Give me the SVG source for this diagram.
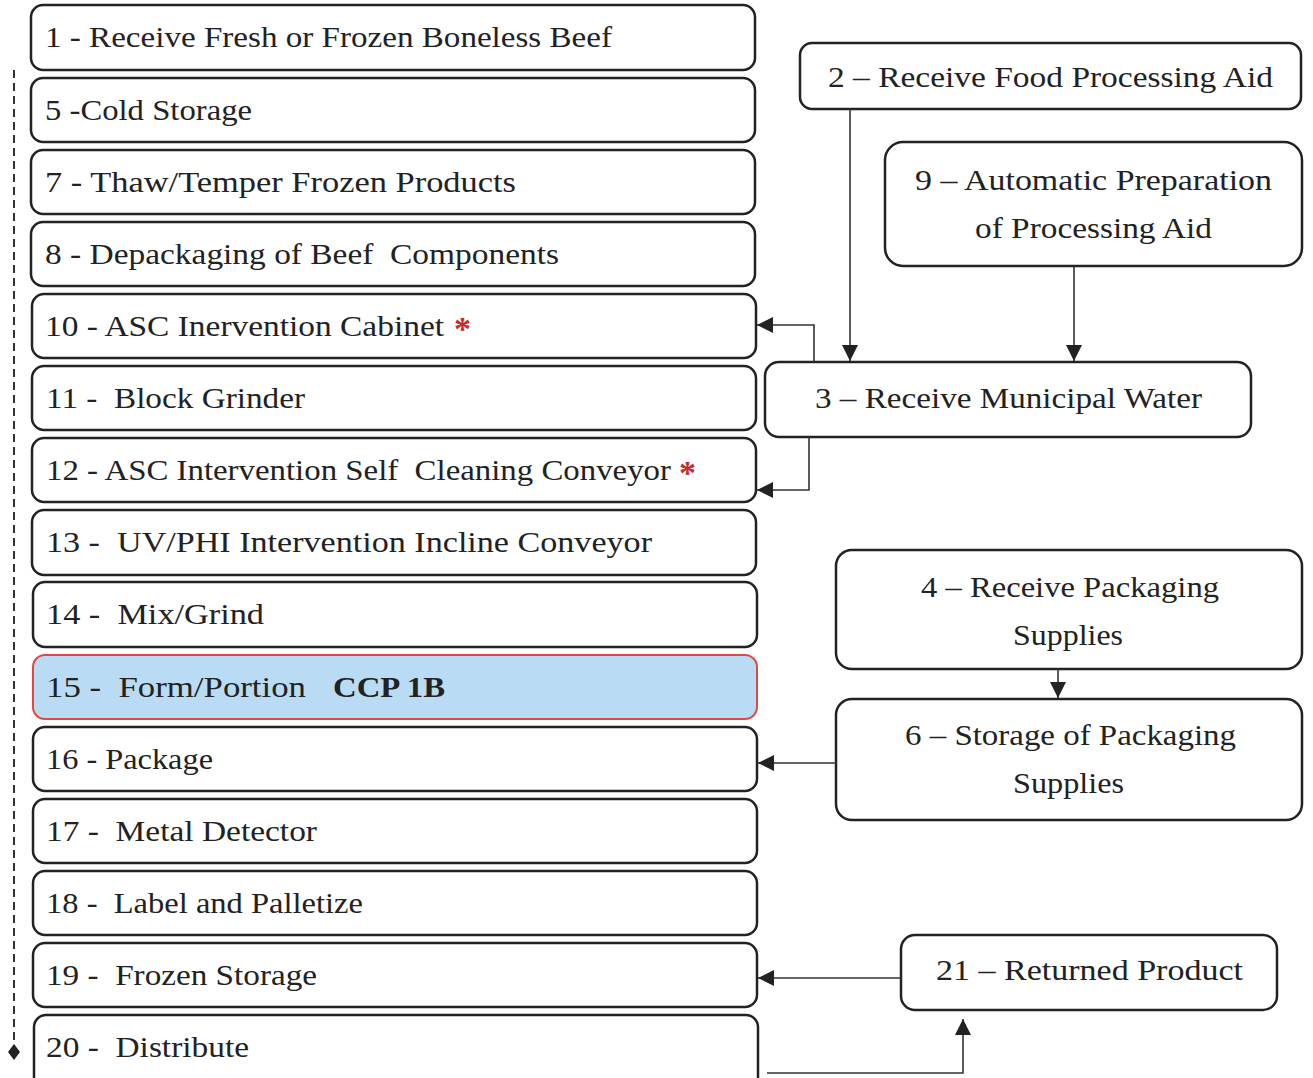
<svg xmlns="http://www.w3.org/2000/svg" width="1313" height="1078" viewBox="0 0 1313 1078">
<defs>
<style>
.box{fill:#fff;stroke:#222;stroke-width:2.5}
.ccp{fill:#b9dcf4;stroke:#e04840;stroke-width:2}
text{font-family:"Liberation Serif","Times New Roman",serif;font-size:29px;fill:#222}
.b{font-weight:bold}
.ast{fill:#c8282d;font-size:34px;font-weight:bold}
.ln{fill:none;stroke:#333;stroke-width:1.6}
.dash{fill:none;stroke:#333;stroke-width:2;stroke-dasharray:8,5}
</style>
<marker id="ah" viewBox="0 0 10 10" refX="10" refY="5" markerWidth="16" markerHeight="16" markerUnits="userSpaceOnUse" orient="auto">
<path d="M0,0 L10,5 L0,10 Z" fill="#222"/>
</marker>
</defs>
<g id="n1"><rect class="box" x="31" y="5" width="724" height="65" rx="12"/><text x="45" y="47" textLength="567" lengthAdjust="spacingAndGlyphs">1 - Receive Fresh or Frozen Boneless Beef</text></g>
<g id="n5"><rect class="box" x="31" y="78" width="724" height="64" rx="12"/><text x="45" y="120" textLength="207" lengthAdjust="spacingAndGlyphs">5 -Cold Storage</text></g>
<g id="n7"><rect class="box" x="31" y="150" width="724" height="64" rx="12"/><text x="45" y="192" textLength="471" lengthAdjust="spacingAndGlyphs">7 - Thaw/Temper Frozen Products</text></g>
<g id="n8"><rect class="box" x="31" y="222" width="724" height="64" rx="12"/><text x="45" y="264" textLength="514" lengthAdjust="spacingAndGlyphs" xml:space="preserve">8 - Depackaging of Beef  Components</text></g>
<g id="n10"><rect class="box" x="32" y="294" width="724" height="64" rx="12"/><text x="45" y="336" textLength="399" lengthAdjust="spacingAndGlyphs">10 - ASC Inervention Cabinet</text><text class="ast" x="454" y="340">*</text></g>
<g id="n11"><rect class="box" x="32" y="366" width="724" height="64" rx="12"/><text x="46" y="408" textLength="259" lengthAdjust="spacingAndGlyphs" xml:space="preserve">11 -  Block Grinder</text></g>
<g id="n12"><rect class="box" x="32" y="438" width="724" height="64" rx="12"/><text x="46" y="480" textLength="625" lengthAdjust="spacingAndGlyphs" xml:space="preserve">12 - ASC Intervention Self  Cleaning Conveyor</text><text class="ast" x="679" y="484">*</text></g>
<g id="n13"><rect class="box" x="32" y="510" width="724" height="65" rx="12"/><text x="46" y="552" textLength="606" lengthAdjust="spacingAndGlyphs" xml:space="preserve">13 -  UV/PHI Intervention Incline Conveyor</text></g>
<g id="n14"><rect class="box" x="33" y="582" width="724" height="65" rx="12"/><text x="46" y="624" textLength="218" lengthAdjust="spacingAndGlyphs" xml:space="preserve">14 -  Mix/Grind</text></g>
<g id="n15"><rect class="ccp" x="33" y="655" width="724" height="64" rx="12"/><text x="46" y="697" textLength="260" lengthAdjust="spacingAndGlyphs" xml:space="preserve">15 -  Form/Portion</text><text class="b" x="333" y="697" textLength="112" lengthAdjust="spacingAndGlyphs">CCP 1B</text></g>
<g id="n16"><rect class="box" x="33" y="727" width="724" height="64" rx="12"/><text x="46" y="769" textLength="167" lengthAdjust="spacingAndGlyphs">16 - Package</text></g>
<g id="n17"><rect class="box" x="33" y="799" width="724" height="64" rx="12"/><text x="46" y="841" textLength="271" lengthAdjust="spacingAndGlyphs" xml:space="preserve">17 -  Metal Detector</text></g>
<g id="n18"><rect class="box" x="33" y="871" width="724" height="64" rx="12"/><text x="46" y="913" textLength="317" lengthAdjust="spacingAndGlyphs" xml:space="preserve">18 -  Label and Palletize</text></g>
<g id="n19"><rect class="box" x="33" y="943" width="724" height="64" rx="12"/><text x="46" y="985" textLength="271" lengthAdjust="spacingAndGlyphs" xml:space="preserve">19 -  Frozen Storage</text></g>
<g id="n20"><rect class="box" x="34" y="1015" width="724" height="75" rx="12"/><text x="46" y="1057" textLength="203" lengthAdjust="spacingAndGlyphs" xml:space="preserve">20 -  Distribute</text></g>

<g id="n2"><rect class="box" x="800" y="43" width="501" height="66" rx="12"/><text x="828" y="87" textLength="445" lengthAdjust="spacingAndGlyphs">2 – Receive Food Processing Aid</text></g>
<g id="n9"><rect class="box" x="885" y="142" width="417" height="124" rx="18"/><text x="915" y="190" textLength="357" lengthAdjust="spacingAndGlyphs">9 – Automatic Preparation</text><text x="975" y="238" textLength="237" lengthAdjust="spacingAndGlyphs">of Processing Aid</text></g>
<g id="n3"><rect class="box" x="765" y="362" width="486" height="75" rx="14"/><text x="815" y="408" textLength="387" lengthAdjust="spacingAndGlyphs">3 – Receive Municipal Water</text></g>
<g id="n4"><rect class="box" x="836" y="550" width="466" height="119" rx="16"/><text x="921" y="597" textLength="298" lengthAdjust="spacingAndGlyphs">4 – Receive Packaging</text><text x="1013" y="645" textLength="110" lengthAdjust="spacingAndGlyphs">Supplies</text></g>
<g id="n6"><rect class="box" x="836" y="699" width="466" height="121" rx="16"/><text x="905" y="745" textLength="331" lengthAdjust="spacingAndGlyphs">6 – Storage of Packaging</text><text x="1013" y="793" textLength="111" lengthAdjust="spacingAndGlyphs">Supplies</text></g>
<g id="n21"><rect class="box" x="901" y="935" width="376" height="75" rx="14"/><text x="936" y="980" textLength="307" lengthAdjust="spacingAndGlyphs">21 – Returned Product</text></g>

<g id="connectors">
<path class="dash" d="M14,70 V1046"/>
<path d="M14,1044 L20,1052 L14,1060 L8,1052 Z" fill="#222"/>
<path class="ln" d="M850,109 V361" marker-end="url(#ah)"/>
<path class="ln" d="M1074,266 V361" marker-end="url(#ah)"/>
<path class="ln" d="M814,362 V325 H757" marker-end="url(#ah)"/>
<path class="ln" d="M809,437 V490 H757" marker-end="url(#ah)"/>
<path class="ln" d="M1058,669 V698" marker-end="url(#ah)"/>
<path class="ln" d="M836,763 H758" marker-end="url(#ah)"/>
<path class="ln" d="M901,978 H758" marker-end="url(#ah)"/>
<path class="ln" d="M767,1073 H963 V1019" marker-end="url(#ah)"/>
</g>
</svg>
